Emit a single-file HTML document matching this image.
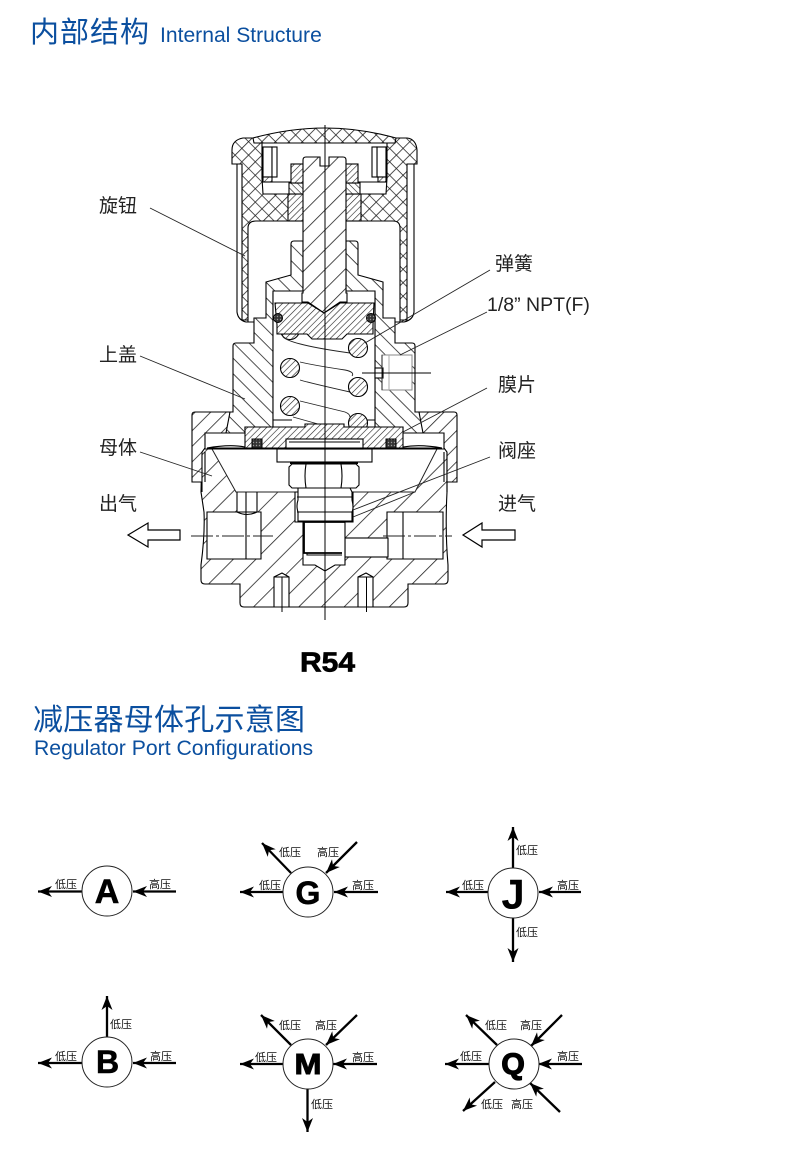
<!DOCTYPE html>
<html lang="zh">
<head>
<meta charset="utf-8">
<title>R54</title>
<style>
html,body{margin:0;padding:0;background:#fff;width:790px;height:1150px;overflow:hidden}
svg{display:block}
text{font-family:"Liberation Sans","Noto Sans CJK SC",sans-serif}
.t{fill:#0b4f9f}
.l{font-size:19px;fill:#222}
.s{font-size:11px;fill:#111}
.b{font-size:32px;font-weight:bold;fill:#000;text-anchor:middle;stroke:#000;stroke-width:.6}
.o{fill:none;stroke:#000;stroke-width:1.1}
.h{stroke:#000;stroke-width:1.1}
.c{fill:#fff;stroke:#222;stroke-width:1}
.a{stroke:#000;stroke-width:2.3;fill:none;marker-end:url(#ar)}
.ln{stroke:#222;stroke-width:.9;fill:none}
</style>
</head>
<body>
<svg width="790" height="1150" viewBox="0 0 790 1150" xmlns="http://www.w3.org/2000/svg">
<defs>
<marker id="ar" markerUnits="userSpaceOnUse" markerWidth="18" markerHeight="14" refX="15" refY="7" orient="auto">
<path d="M15,7 L1,1.5 L5,7 L1,12.5 Z" fill="#000"/>
</marker>
<pattern id="body" width="16" height="16" patternUnits="userSpaceOnUse" patternTransform="rotate(-45)"><rect width="16" height="16" fill="#fff"/><line x1="0" y1="0" x2="16" y2="0" stroke="#222" stroke-width="1.6"/></pattern>
<pattern id="stem" width="14" height="14" patternUnits="userSpaceOnUse" patternTransform="rotate(-45)"><rect width="14" height="14" fill="#fff"/><line x1="0" y1="0" x2="14" y2="0" stroke="#222" stroke-width="1.6"/></pattern>
<pattern id="up" width="11" height="11" patternUnits="userSpaceOnUse" patternTransform="rotate(-45)"><rect width="11" height="11" fill="#fff"/><line x1="0" y1="0" x2="11" y2="0" stroke="#222" stroke-width="1.6"/></pattern>
<pattern id="dn" width="11" height="11" patternUnits="userSpaceOnUse" patternTransform="rotate(45)"><rect width="11" height="11" fill="#fff"/><line x1="0" y1="0" x2="11" y2="0" stroke="#222" stroke-width="1.6"/></pattern>
<pattern id="de" width="4.500" height="4.500" patternUnits="userSpaceOnUse" patternTransform="rotate(-45)"><rect width="4.500" height="4.500" fill="#fff"/><line x1="0" y1="0" x2="4.500" y2="0" stroke="#222" stroke-width="1.2"/></pattern>
<pattern id="dd" width="4.500" height="4.500" patternUnits="userSpaceOnUse" patternTransform="rotate(45)"><rect width="4.500" height="4.500" fill="#fff"/><line x1="0" y1="0" x2="4.500" y2="0" stroke="#222" stroke-width="1.2"/></pattern>
<pattern id="x" width="9.500" height="9.500" patternUnits="userSpaceOnUse" patternTransform="rotate(45)"><rect width="9.500" height="9.500" fill="#fff"/><path d="M0,0H9.500M0,0V9.500" stroke="#222" stroke-width="1.6" fill="none"/></pattern>
<pattern id="rg" width="3" height="3" patternUnits="userSpaceOnUse"><rect width="3" height="3" fill="#333"/><circle cx="1.5" cy="1.5" r=".7" fill="#999"/></pattern>
</defs>

<text class="t" x="30" y="42" font-size="29" letter-spacing="1">内部结构</text>
<text class="t" x="160" y="42" font-size="21.100">Internal Structure</text>

<!-- body -->
<path class="h" fill="url(#body)" d="M202,449 L447,449 L447,492 Q445,530 448,565 L448,580 Q448,584 444,584 L408,584 L408,603 Q408,607 404,607 L244,607 Q240,607 240,603 L240,584 L205,584 Q201,584 201,580 L201,565 Q205,535 204,512 L201,492 Z"/>
<path class="c" d="M212,449 L437,449 L415,492 L236,492 Z"/>
<rect class="c" x="237" y="492" width="20" height="28" stroke-width="1"/>
<path class="h" fill="#fff" d="M207,512 L261,512 L261,559 L207,559 Z"/>
<path class="o" d="M237,492V512M257,492V512M237,512Q247,517 257,512M246,492V559"/>
<path class="h" fill="#fff" d="M387,512 L443,512 L443,559 L387,559 Z"/>
<path class="o" d="M403,512V559"/>
<rect x="345" y="538" width="43" height="19" fill="#fff" class="h"/>
<!-- valve seat -->
<path class="h" fill="#fff" d="M303,522 H345 V565 H335 L325,571 L315,565 H303 Z"/>
<path d="M304,522H345M304,522V553H342" fill="none" stroke="#000" stroke-width="1.8"/>
<path class="o" d="M307,553V555H342"/>
<path class="h" fill="#fff" d="M295,492 L353,492 L353,522 L295,522 Z"/>
<path class="h" fill="#fff" d="M298,488 H350 L352,492 V500 Q354,508 352,512 V521 H298 V512 Q296,506 298,500 Z"/>
<path class="o" d="M297,497H352M297,512H352"/>
<!-- pins -->
<path class="h" fill="#fff" d="M274,607V577L282,573L289,577V607Z"/>
<path class="h" fill="#fff" d="M358,607V577L366,573L373,577V607Z"/>
<path class="o" d="M274,577H289M358,577H373"/>
<!-- hex + plate -->
<path class="h" fill="#fff" d="M292,464 H356 L359,467 V485 L356,488 H292 L289,485 V467 Z"/>
<path class="o" d="M306,464Q304,476 306,488M341,464Q343,476 341,488"/>
<rect class="h" x="277" y="449" width="95" height="13" fill="#fff"/>
<rect x="290" y="462" width="68" height="2" fill="#000"/>
<!-- nuts -->
<path class="h" fill="url(#up)" d="M192,415 Q192,412 195,412 L230,412 L229,427 L226,433 L205,433 L205,448 L202,452 L202,482 L192,482 Z"/>
<path class="h" fill="url(#up)" d="M457,415 Q457,412 454,412 L419,412 L420,427 L423,433 L444,433 L444,448 L447,452 L447,482 L457,482 Z"/>
<path class="o" d="M202,482V492M447,482V492M205,452V482M444,452V482"/>

<!-- cap -->
<path class="h" fill="#fff" d="M237,164 V312 Q238,320 246,322 H404 Q413,320 414,312 V164 Z"/>
<path class="h" fill="url(#x)" d="M232,150 Q232,140 243,138 L253,138 Q290,128 325,128 Q360,128 396,138 L407,138 Q416,139 417,150 L417,164 L407,164 L407,320 L242,320 L242,164 L232,164 Z"/>
<path class="o" d="M253,138L254,143H395L396,138"/>
<path class="h" fill="#fff" d="M262,143 H387 V178 L386,194 H263 L262,178 Z"/>
<path class="h" fill="#fff" d="M248,228 Q248,221 256,221 H393 Q400,221 400,228 V322 H248 Z"/>
<rect class="h" x="263" y="147" width="9" height="30" fill="#fff"/>
<rect class="h" x="272" y="147" width="5" height="30" fill="#fff"/>
<rect class="h" x="377" y="147" width="9" height="30" fill="#fff"/>
<rect class="h" x="372" y="147" width="5" height="30" fill="#fff"/>
<rect class="h" x="263" y="177" width="9" height="5" fill="url(#de)"/>
<rect class="h" x="378" y="177" width="8" height="5" fill="url(#de)"/>
<path class="o" d="M272,182H291M358,182H378"/>
<rect class="h" x="288" y="194" width="73" height="27" fill="url(#de)"/>
<rect class="h" x="289" y="183" width="15" height="11" fill="url(#dd)"/>
<rect class="h" x="345" y="183" width="15" height="11" fill="url(#dd)"/>
<rect class="h" x="291" y="164" width="15" height="19" fill="url(#de)"/>
<rect class="h" x="343" y="164" width="15" height="19" fill="url(#de)"/>

<!-- bonnet -->
<path class="h" fill="url(#dn)" d="M294,241 H303 V293 H273 V427 H245 V433 H226 L230,412 H233 V346 Q233,343 236,343 H254 V318 H266 V282 L291,275 V244 Q291,241 294,241 Z"/>
<path class="h" fill="url(#dn)" d="M355,241 H346 V293 H375 V427 H403 V433 H423 L419,412 H415 V346 Q415,343 412,343 H395 V318 H383 V282 L358,275 V244 Q358,241 355,241 Z"/>
<path class="h" fill="#fff" d="M273,291 H375 V427 H273 Z"/>
<path class="o" d="M273,420H292M356,420H375"/>
<!-- side plug -->
<rect x="382" y="355" width="30" height="35" fill="#fff" stroke="#888" stroke-width="1"/>
<rect class="h" x="375" y="368" width="8" height="10" fill="#fff"/>
<path d="M389,355V390" stroke="#aaa" stroke-width="1"/>
<path d="M382,355V390" stroke="#222" stroke-width="1"/>
<path d="M362,373H431" stroke="#000" stroke-width="1"/>

<!-- spring -->
<circle class="h" cx="290" cy="330" r="9.5" fill="url(#de)"/>
<path class="ln" d="M283,337Q292,345 350,353M300,362Q312,365 345,370Q355,372 352,376M300,380Q310,383 350,392M300,401Q312,404 345,412Q350,414 350,417M293,417Q300,419 318,424"/>
<circle class="h" cx="358" cy="348" r="9.5" fill="url(#de)"/>
<circle class="h" cx="290" cy="368" r="9.5" fill="url(#de)"/>
<circle class="h" cx="358" cy="387" r="9.5" fill="url(#de)"/>
<circle class="h" cx="290" cy="406" r="9.5" fill="url(#de)"/>
<circle class="h" cx="358" cy="423" r="9.5" fill="url(#de)"/>

<!-- spring plate -->
<path class="h" fill="url(#de)" d="M275,303 H308 L324,313 L340,303 H374 L373,325 V334 H347 L342,339 H312 L307,334 H277 V325 Z"/>
<circle cx="278" cy="318" r="4.500" fill="url(#rg)" stroke="#000"/>
<circle cx="371" cy="318" r="4.500" fill="url(#rg)" stroke="#000"/>

<!-- stem -->
<path class="h" fill="url(#stem)" d="M303,160 Q303,157 306,157 H320 V166 H329 V157 H343 Q346,157 346,160 V293 H347 V302 H340 L324,313 L308,302 H302 V293 H303 Z"/>

<!-- piston / diaphragm -->
<path class="h" fill="url(#de)" d="M245,427 H305 V424 H344 V427 H403 V448 H245 Z"/>
<rect class="h" x="286" y="439" width="77" height="10" fill="#fff"/>
<path class="o" d="M289,442H360"/>
<rect x="252" y="439" width="10" height="9" fill="url(#rg)" stroke="#000"/>
<rect x="386" y="439" width="10" height="9" fill="url(#rg)" stroke="#000"/>
<rect x="207" y="447.500" width="235" height="2" fill="#000"/>
<path class="o" d="M207,448Q230,444 245,447M403,447Q420,444 442,448"/>

<!-- center lines -->
<path d="M325,125V620" stroke="#000" stroke-width="1" fill="none"/>
<path d="M191,536H273" stroke="#222" stroke-width="1" stroke-dasharray="22 3 3 3"/>
<path d="M383,536H452" stroke="#222" stroke-width="1" stroke-dasharray="22 3 3 3"/>
<path d="M282,577V612M366.500,577V612" stroke="#000" stroke-width="1"/>

<!-- leaders -->
<g class="ln">
<path d="M150,208L245,256"/>
<path d="M490,270L365,343"/>
<path d="M487,312L400,355"/>
<path d="M140,356L245,399"/>
<path d="M487,388L403,432"/>
<path d="M140,452L212,476"/>
<path d="M490,457L353,510"/>
<path d="M353,517L415,492"/>
</g>

<!-- flow arrows -->
<path d="M128,535 L148,523 V530 H180 V540 H148 V547 Z" fill="#fff" stroke="#000" stroke-width="1.2"/>
<path d="M463,535 L482,523 V530 H515 V540 H482 V547 Z" fill="#fff" stroke="#000" stroke-width="1.2"/>

<!-- labels -->
<text class="l" x="99" y="212">旋钮</text>
<text class="l" x="495" y="270">弹簧</text>
<text class="l" x="487" y="311" style="font-size:19.500px">1/8” NPT(F)</text>
<text class="l" x="99" y="361">上盖</text>
<text class="l" x="498" y="391">膜片</text>
<text class="l" x="99" y="454">母体</text>
<text class="l" x="498" y="457">阀座</text>
<text class="l" x="99" y="510">出气</text>
<text class="l" x="498" y="510">进气</text>

<text x="300" y="671.500" font-size="28" font-weight="bold" stroke="#000" stroke-width=".7" textLength="55" lengthAdjust="spacingAndGlyphs">R54</text>

<text class="t" x="33" y="730" font-size="30" letter-spacing=".25">减压器母体孔示意图</text>
<text class="t" x="34" y="755" font-size="21.200">Regulator Port Configurations</text>

<!-- A -->
<path class="a" d="M82,891.500H38"/><path class="a" d="M176,891.500H133"/>
<circle class="c" cx="107" cy="891" r="25"/><text class="b" x="107" y="903" style="font-size:34px">A</text>
<text class="s" x="55" y="888">低压</text><text class="s" x="149" y="888">高压</text>
<!-- G -->
<path class="a" d="M283,892H240"/><path class="a" d="M378,892H334"/><path class="a" d="M291,873L262,843"/><path class="a" d="M357,842L326,873"/>
<circle class="c" cx="308" cy="892" r="25"/><text class="b" x="308" y="904">G</text>
<text class="s" x="279" y="856">低压</text><text class="s" x="317" y="856">高压</text><text class="s" x="259" y="889">低压</text><text class="s" x="352" y="889">高压</text>
<!-- J -->
<path class="a" d="M488,892H446"/><path class="a" d="M581,892H539"/><path class="a" d="M513,868V827"/><path class="a" d="M513,918V962"/>
<circle class="c" cx="513" cy="893" r="25"/><text class="b" x="513" y="908.500" style="font-size:42px;stroke-width:0">J</text>
<text class="s" x="516" y="854">低压</text><text class="s" x="516" y="936">低压</text><text class="s" x="462" y="889">低压</text><text class="s" x="557" y="889">高压</text>
<!-- B -->
<path class="a" d="M82,1063H38"/><path class="a" d="M176,1063H133"/><path class="a" d="M107,1037V996"/>
<circle class="c" cx="107" cy="1062" r="25"/><text class="b" x="107.500" y="1073">B</text>
<text class="s" x="110" y="1028">低压</text><text class="s" x="55" y="1060">低压</text><text class="s" x="150" y="1060">高压</text>
<!-- M -->
<path class="a" d="M283,1064H240"/><path class="a" d="M377,1064H333"/><path class="a" d="M291,1045L261,1015"/><path class="a" d="M357,1015L326,1045"/><path class="a" d="M307.500,1089V1132"/>
<circle class="c" cx="308" cy="1064" r="25"/><text x="294.500" y="1074" font-size="29" font-weight="bold" stroke="#000" stroke-width="1" textLength="27" lengthAdjust="spacingAndGlyphs">M</text>
<text class="s" x="279" y="1029">低压</text><text class="s" x="315" y="1029">高压</text><text class="s" x="255" y="1061">低压</text><text class="s" x="352" y="1061">高压</text><text class="s" x="311" y="1108">低压</text>
<!-- Q -->
<path class="a" d="M489,1064H445"/><path class="a" d="M582,1064H538"/><path class="a" d="M497,1045L466,1015"/><path class="a" d="M562,1015L531,1046"/><path class="a" d="M495,1082L463,1111"/><path class="a" d="M560,1112L530,1083"/>
<circle class="c" cx="514" cy="1064" r="25"/><text class="b" x="513" y="1074" style="font-size:30px;stroke-width:1.3">Q</text>
<text class="s" x="485" y="1029">低压</text><text class="s" x="520" y="1029">高压</text><text class="s" x="460" y="1060">低压</text><text class="s" x="557" y="1060">高压</text><text class="s" x="481" y="1108">低压</text><text class="s" x="511" y="1108">高压</text>
</svg>
</body>
</html>
